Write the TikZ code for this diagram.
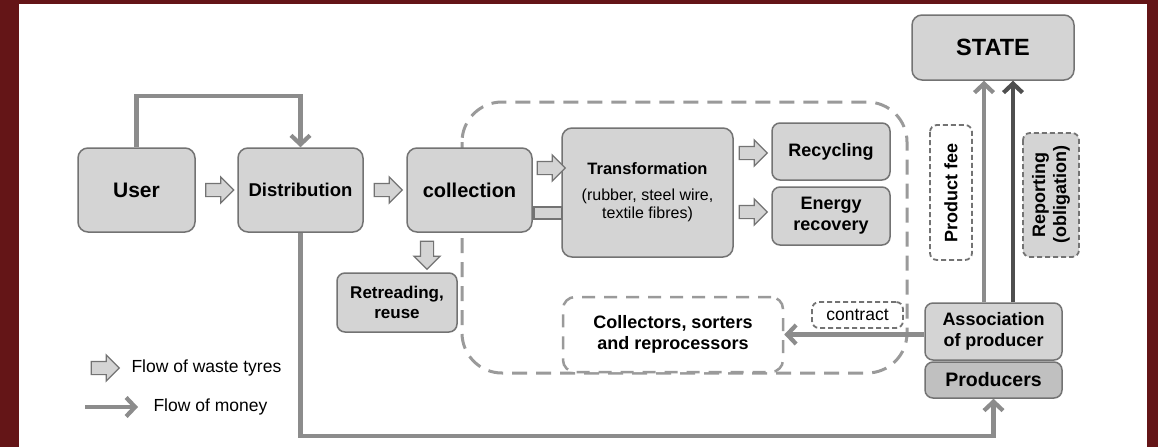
\documentclass[tikz,border=0pt]{standalone}
\usepackage{fontspec}
\setmainfont{Liberation Sans}
\usetikzlibrary{arrows.meta,positioning,calc,shapes.arrows}
\definecolor{framered}{HTML}{641517}
\definecolor{boxfill}{HTML}{D4D4D4}
\definecolor{boxdark}{HTML}{C0C0C0}
\definecolor{boxline}{HTML}{737373}
\definecolor{moneygray}{HTML}{8C8C8C}
\definecolor{moneydark}{HTML}{4F4F4F}
\definecolor{regiongray}{HTML}{9A9A9A}
\newcommand{\fs}[1]{\fontsize{#1}{1.17\dimexpr #1pt\relax}\selectfont}
\newcommand{\subtxt}[1]{{\mdseries\fs{16}#1}}

\begin{document}
\begin{tikzpicture}[x=1pt,y=-1pt,>=Latex,
  every node/.style={font=\fs{18}\bfseries},
  box/.style={draw=boxline,fill=boxfill,line width=1.5pt,rounded corners=10pt,align=center,inner sep=2pt},
  dbox/.style={draw=boxline,line width=1.8pt,dash pattern=on 5pt off 3pt,rounded corners=7pt,align=center,inner sep=2pt},
  flow/.style={single arrow,draw=boxline,fill=boxfill,line width=1.2pt,minimum height=28pt,minimum width=25pt,single arrow head extend=6.5pt,inner sep=6pt},
  flowstub/.style={draw=boxline,fill=boxfill,line width=1.2pt,minimum width=28pt,minimum height=12pt,inner sep=0pt},
  money/.style={draw=moneygray,line width=4.2pt,-{Straight Barb[length=9pt,width=19pt]}},
  region/.style={draw=regiongray,line width=3pt,dash pattern=on 15pt off 9pt,rounded corners=40pt}]
\useasboundingbox (0,0) rectangle (1158,447);
\fill[framered] (0,0) rectangle (1158,447);
\fill[white] (19,4) rectangle (1147,447);
\draw[region] (462,102) rectangle (907,373);
\node[flowstub] (FlowStub) at (548,213) {};
\node[box,minimum width=117pt,minimum height=84pt,font=\fs{21}\bfseries] (User) at (136.5,190) {User};
\node[box,minimum width=125pt,minimum height=84pt,font=\fs{18.5}\bfseries] (Dist) at (300.5,190) {Distribution};
\node[box,minimum width=125pt,minimum height=84pt,font=\fs{20}\bfseries] (Coll) at (469.5,190) {collection};
\node[box,minimum width=171pt,minimum height=129pt,font=\fontsize{16.5}{18}\selectfont\bfseries] (Trans) at (647.5,192.5) {Transformation\\[8pt]\subtxt{(rubber, steel wire,}\\\subtxt{textile fibres)}};
\node[box,minimum width=118pt,minimum height=57pt,rounded corners=8pt] (Recyc) at (831,151.5) {Recycling};
\node[box,minimum width=118pt,minimum height=58pt,rounded corners=8pt] (Energy) at (831,216) {Energy\\recovery};
\node[box,minimum width=120pt,minimum height=59pt,rounded corners=8pt,font=\fs{17}\bfseries] (Retread) at (397,302.5) {Retreading,\\reuse};
\node[box,fill=white,draw=regiongray,line width=2.5pt,dash pattern=on 13pt off 9pt,minimum width=220pt,minimum height=75pt,rounded corners=12pt] (Collect) at (673,334.5) {Collectors, sorters\\and reprocessors};
\node[dbox,fill=white,minimum width=91pt,minimum height=26pt,font=\fs{17.5}\mdseries] (Contract) at (857.5,315) {contract};
\node[box,minimum width=162pt,minimum height=65pt,font=\fs{23.5}\bfseries] (State) at (993,47.5) {STATE};
\node[dbox,fill=white,rotate=90,minimum width=135pt,minimum height=42pt,font=\fs{18}\bfseries] (Fee) at (951,192.5) {Product fee};
\node[dbox,fill=boxfill,rotate=90,minimum width=124pt,minimum height=56pt,font=\fs{18}\bfseries] (Report) at (1051,195) {Reporting\\(obligation)};
\node[box,minimum width=137pt,minimum height=57pt,rounded corners=8pt] (Assoc) at (993.5,331.5) {Association\\of producer};
\node[box,fill=boxdark,minimum width=137pt,minimum height=36pt,rounded corners=8pt,font=\fs{19.5}\bfseries] (Prod) at (993.5,380) {Producers};
\node[flow] (F1) at ($(User.east)!.5!(Dist.west)$) {};
\node[flow] (F2) at ($(Dist.east)!.5!(Coll.west)$) {};
\node[flow] (F3) at (548,168) {};
\node[flow] (F4) at (750,153) {};
\node[flow] (F5) at (750,212) {};
\node[flow,shape border rotate=270] (F6) at (427,252) {};
\draw[money] (User.north) -- ++(0,-51) -| (Dist.north);
\draw[money] (Dist.south) -- ++(0,203) -| (Prod.south);
\draw[money] (Assoc.west |- Collect.east) -- (Collect.east);
\draw[money] ([xshift=-9.5pt]Assoc.north) -- ([xshift=-9.5pt]Assoc.north |- State.south);
\draw[money,draw=moneydark] ([xshift=19.5pt]Assoc.north) -- ([xshift=19.5pt]Assoc.north |- State.south);
\node[flow] (LegFlow) at (102,368) {};
\node[anchor=west,font=\fs{17.5}] (LegFlowTxt) at (128,368) {Flow of waste tyres};
\coordinate (LegA) at (85,407);
\coordinate (LegB) at (138,407);
\draw[money] (LegA) -- (LegB);
\node[anchor=west,font=\fs{17.5}] (LegMoneyTxt) at (150,407) {Flow of money};
\end{tikzpicture}
\end{document}
